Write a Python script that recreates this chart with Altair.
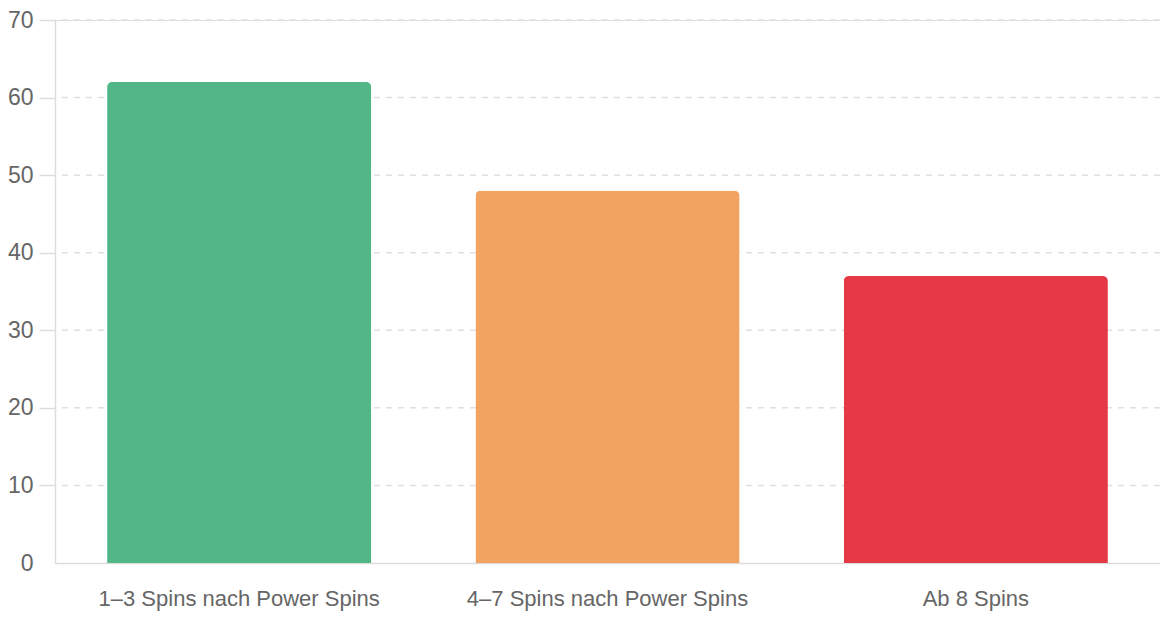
import altair as alt
import pandas as pd

categories = ["1–3 Spins nach Power Spins", "4–7 Spins nach Power Spins", "Ab 8 Spins"]
values = [62, 48, 37]
colors = ["#52b788", "#f2a261", "#e63946"]
y_ticks = [0, 10, 20, 30, 40, 50, 60, 70]
grid_values = [10, 20, 30, 40, 50, 60, 70]

df = pd.DataFrame({"kategorie": categories, "wert": values})
grid_df = pd.DataFrame({"wert": grid_values})

font = "Liberation Sans"
y_scale = alt.Scale(domain=[0, 70], nice=False)

# dashed horizontal guide lines behind the bars
grid = (
    alt.Chart(grid_df)
    .mark_rule(color="#e0e0e0", strokeWidth=1.5, strokeDash=[6, 6])
    .encode(y=alt.Y("wert:Q", scale=y_scale, title=None))
)

bars = (
    alt.Chart(df)
    .mark_bar(cornerRadiusTopLeft=5, cornerRadiusTopRight=5)
    .encode(
        x=alt.X(
            "kategorie:N",
            sort=categories,
            title=None,
            scale=alt.Scale(paddingInner=0.283, paddingOuter=0.1415),
            axis=alt.Axis(
                labelAngle=0,
                labelFont=font,
                labelFontSize=22,
                labelColor="#666666",
                labelPadding=25,
                labelLimit=0,
                ticks=False,
                domainColor="#dddddd",
                domainWidth=1.5,
                grid=False,
            ),
        ),
        y=alt.Y(
            "wert:Q",
            title=None,
            scale=y_scale,
            axis=alt.Axis(
                values=y_ticks,
                labelFont=font,
                labelFontSize=23,
                labelColor="#666666",
                labelPadding=6,
                tickSize=16,
                tickColor={"condition": {"test": "datum.value == 0", "value": "transparent"}, "value": "#dddddd"},
                tickWidth=1.5,
                domainColor="#dddddd",
                domainWidth=1.5,
                grid=False,
            ),
        ),
        color=alt.Color(
            "kategorie:N",
            sort=categories,
            scale=alt.Scale(domain=categories, range=colors),
            legend=None,
        ),
    )
)

chart = (
    alt.layer(grid, bars)
    .properties(
        width=1105,
        height=543,
        autosize=alt.AutoSizeParams(type="none"),
        padding={"left": 55, "top": 20, "right": 0, "bottom": 57},
    )
    .configure_view(stroke="transparent", strokeWidth=0)
    .configure(background="white")
)

chart.save("out.html", embed_options={"renderer": "svg", "actions": False})
